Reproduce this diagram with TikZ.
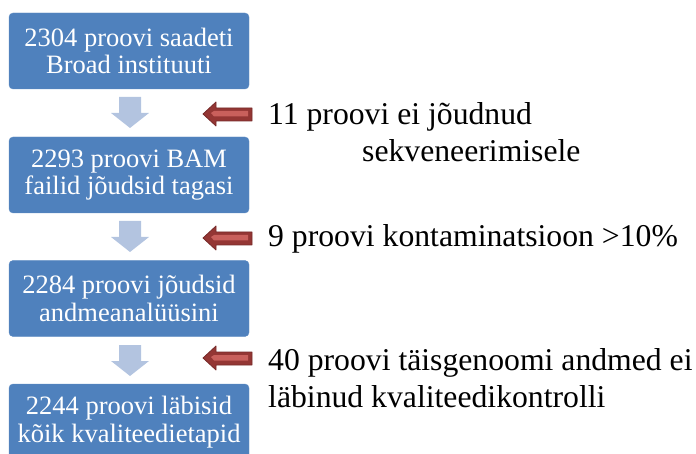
\documentclass[tikz,border=0pt]{standalone}
\usepackage{fontspec}
\setmainfont{Liberation Serif}
\definecolor{boxblue}{HTML}{4F81BD}
\definecolor{downblue}{HTML}{B3C4E0}
\definecolor{darkred}{HTML}{943634}
\definecolor{lightred}{HTML}{C9605C}
\begin{document}
\begin{tikzpicture}[x=1pt,y=-1pt,
  stepbox/.style={rectangle, rounded corners=4pt, fill=boxblue, draw=boxblue!90!white,
    minimum width=240pt, minimum height=76pt, inner sep=0pt, text=white, align=center,
    font=\fontsize{26.5}{27.5}\selectfont},
  sidetext/.style={anchor=base west, inner sep=0pt, font=\fontsize{31.7}{37}\selectfont}]
\useasboundingbox (0,0) rectangle (696,454);
\clip (0,0) rectangle (696,454);
% boxes
\node[stepbox] (b1) at (129,51) {2304 proovi saadeti\\Broad instituuti};
\node[stepbox] (b2) at (129,175) {2293 proovi BAM\\failid jõudsid tagasi};
\node[stepbox] (b3) at (129,298.5) {2284 proovi jõudsid\\andmeanalüüsini};
\node[stepbox] (b4) at (129,422) {2244 proovi läbisid\\kõik kvaliteedietapid};
% down arrows
\foreach \t/\nm in {97/d1,221/d2,345/d3}{
  \fill[downblue] (119,\t) -- (141,\t) -- (141,\t+16) -- (149,\t+16) -- (130,\t+31)
     -- (111,\t+16) -- (119,\t+16) -- cycle;
  \coordinate (\nm) at (130,\t+15);
}
% red arrows
\foreach \c/\nm in {114/r1,238/r2,358/r3}{
  \filldraw[fill=darkred, draw=darkred!80!black, line width=0.8pt, line join=round]
    (203,\c) -- (216,\c-12) -- (216,\c-6) -- (252,\c-6) -- (252,\c+7)
    -- (216,\c+7) -- (216,\c+12) -- cycle;
  \fill[lightred] (211,\c-1) -- (214,\c-3) -- (248,\c-3) -- (248,\c+2.5) -- (214,\c+2.5) -- cycle;
  \coordinate (\nm) at (227,\c);
}
% side texts
\node[sidetext] (t1a) at (268,125) {11 proovi ei jõudnud};
\node[sidetext] (t1b) at (362,162) {sekveneerimisele};
\node[sidetext] (t2) at (268,247) {9 proovi kontaminatsioon >10\%};
\node[sidetext] (t3a) at (268,370) {40 proovi täisgenoomi andmed ei};
\node[sidetext] (t3b) at (268,407) {läbinud kvaliteedikontrolli};
\end{tikzpicture}
\end{document}
